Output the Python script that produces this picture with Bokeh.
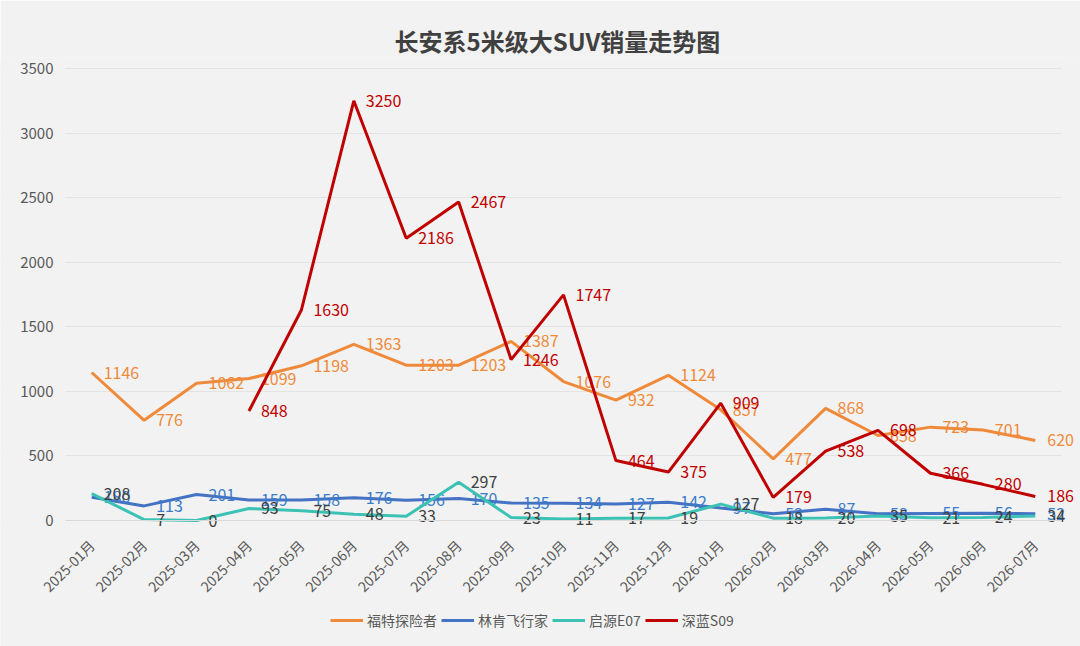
from math import pi
from bokeh.plotting import figure
from bokeh.models import Range1d, FixedTicker, Legend, LegendItem, ColumnDataSource, BoxAnnotation
from bokeh.core.properties import value
from bokeh.embed import file_html
from bokeh.resources import INLINE

months = ["2025-01月", "2025-02月", "2025-03月", "2025-04月", "2025-05月", "2025-06月",
          "2025-07月", "2025-08月", "2025-09月", "2025-10月", "2025-11月", "2025-12月",
          "2026-01月", "2026-02月", "2026-03月", "2026-04月", "2026-05月", "2026-06月", "2026-07月"]

ford = [1146, 776, 1062, 1099, 1198, 1363, 1203, 1203, 1387, 1076, 932, 1124, 857, 477, 868, 658, 723, 701, 620]
lincoln = [180, 113, 201, 159, 158, 176, 156, 170, 135, 134, 127, 142, 97, 53, 87, 53, 55, 56, 52]
e07 = [208, 7, 0, 93, 75, 48, 33, 297, 23, 11, 17, 19, 127, 18, 20, 35, 21, 24, 34]
s09_start = 3
s09 = [848, 1630, 3250, 2186, 2467, 1246, 1747, 464, 375, 909, 179, 538, 698, 366, 280, 186]

y_ticks = [0, 500, 1000, 1500, 2000, 2500, 3000, 3500]

FONT = "Noto Sans CJK SC"
BG = "#F2F2F2"

# layout (pixels): plot area 65..1061 horizontally, 68..520 vertically
W, H = 1080, 646
FRAME_T = 57
PLOT_L, PLOT_R, PLOT_T, PLOT_B = 65, 1061, 68, 520
n = len(months)
px_per_cat = (PLOT_R - PLOT_L) / n
x_lo = -0.5 - PLOT_L / px_per_cat
x_hi = n - 0.5 + (W - PLOT_R) / px_per_cat
Y_TOP = y_ticks[-1]
px_per_unit = (PLOT_B - PLOT_T) / Y_TOP
y_lo = -(H - PLOT_B) / px_per_unit
y_hi = Y_TOP + (PLOT_T - FRAME_T) / px_per_unit

p = figure(frame_width=W, frame_height=H - FRAME_T, output_backend="svg", toolbar_location=None,
           x_range=Range1d(x_lo, x_hi), y_range=Range1d(y_lo, y_hi),
           background_fill_color=BG, border_fill_color=BG,
           min_border_left=0, min_border_right=0, min_border_top=FRAME_T, min_border_bottom=0)

p.title.text = "长安系5米级大SUV销量走势图"
p.title.align = "left"
p.title.offset = 394
p.title.text_font = FONT
p.title.text_font_size = "24px"
p.title.text_font_style = "bold"
p.title.text_color = "#404040"
p.title.standoff = 0

p.outline_line_color = None
p.xgrid.grid_line_color = None
p.ygrid.grid_line_color = "#E3E3E3"
p.ygrid.grid_line_width = 1
p.ygrid.ticker = FixedTicker(ticks=y_ticks)

# hide the grid outside the plot area (left and right margins)
p.add_layout(BoxAnnotation(left=x_lo, right=-0.5, bottom=y_lo, top=y_hi, fill_color=BG,
                           fill_alpha=1, line_color=None, level="underlay"))
p.add_layout(BoxAnnotation(left=n - 0.5, right=x_hi, bottom=y_lo, top=y_hi, fill_color=BG,
                           fill_alpha=1, line_color=None, level="underlay"))

p.yaxis.fixed_location = -0.5
p.yaxis.ticker = FixedTicker(ticks=y_ticks)
p.yaxis.axis_line_color = None
p.yaxis.major_tick_line_color = None
p.yaxis.minor_tick_line_color = None
p.yaxis.major_label_text_font = FONT
p.yaxis.major_label_text_font_size = "15px"
p.yaxis.major_label_text_color = "#595959"
p.yaxis.major_label_standoff = 6

p.xaxis.fixed_location = 0
p.xaxis.bounds = (-0.5, n - 0.5)
p.xaxis.ticker = FixedTicker(ticks=list(range(n)))
p.xaxis.major_label_overrides = {i: m for i, m in enumerate(months)}
p.xaxis.major_label_orientation = pi / 4
p.xaxis.axis_line_color = "#D9D9D9"
p.xaxis.major_tick_line_color = None
p.xaxis.minor_tick_line_color = None
p.xaxis.major_label_text_font = FONT
p.xaxis.major_label_text_font_size = "14px"
p.xaxis.major_label_text_color = "#595959"
p.xaxis.major_label_standoff = 16

series = [
    ("福特探险者", list(range(n)), ford, "#EF8A3A", "#EF8A3A"),
    ("林肯飞行家", list(range(n)), lincoln, "#4472C4", "#3A7CC8"),
    ("启源E07", list(range(n)), e07, "#3CC2B4", "#404040"),
    ("深蓝S09", list(range(s09_start, s09_start + len(s09))), s09, "#C00000", "#C00000"),
]

items = []
for name, xs, ys, color, lcolor in series:
    src = ColumnDataSource(dict(x=xs, y=ys, t=[str(v) for v in ys]))
    r = p.line("x", "y", source=src, line_color=color, line_width=3)
    p.text("x", "y", text="t", source=src, x_offset=12, text_align="left",
           text_baseline="middle", text_font=value(FONT), text_font_size="16px",
           text_color=lcolor)
    items.append(LegendItem(label=name, renderers=[r]))

legend = Legend(items=items, orientation="horizontal", location=(330, 16),
                background_fill_alpha=0, border_line_color=None,
                label_text_font=FONT, label_text_font_size="14px",
                label_text_color="#595959", glyph_width=33, spacing=4,
                label_standoff=4, margin=0, padding=4)
p.add_layout(legend, "center")

open("out.html", "w").write(file_html(p, INLINE))
